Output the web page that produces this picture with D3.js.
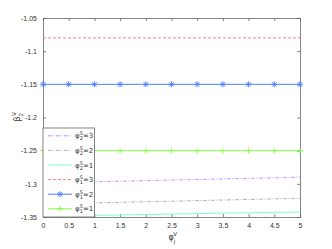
<!DOCTYPE html>
<html>
<head>
<meta charset="utf-8">
<script src="https://cdn.jsdelivr.net/npm/d3@7"></script>
<style>
  body { margin: 0; background: #fff; }
  svg { font-family: "DejaVu Sans", sans-serif; }
</style>
</head>
<body>
<svg id="chart" width="332" height="249"></svg>
<script>
// x positions (phi_j^V)
const xVals = [0, 0.5, 1, 1.5, 2, 2.5, 3, 3.5, 4, 4.5, 5];
const xTicks = [0, 0.5, 1, 1.5, 2, 2.5, 3, 3.5, 4, 4.5, 5];
const yTicks = [-1.35, -1.3, -1.25, -1.2, -1.15, -1.1, -1.05];

// series values
const phi1s1 = [-1.25, -1.25, -1.25, -1.25, -1.25, -1.25, -1.25, -1.25, -1.25, -1.25, -1.25];
const phi1s2 = [-1.15, -1.15, -1.15, -1.15, -1.15, -1.15, -1.15, -1.15, -1.15, -1.15, -1.15];
const phi1s3 = [-1.08, -1.08, -1.08, -1.08, -1.08, -1.08, -1.08, -1.08, -1.08, -1.08, -1.08];
const phi2s3 = [-1.299, -1.298, -1.297, -1.296, -1.2952, -1.2943, -1.2935, -1.2926, -1.2918, -1.291, -1.2898];
const phi2s2 = [-1.3305, -1.3296, -1.3287, -1.3278, -1.327, -1.3262, -1.3253, -1.3244, -1.3235, -1.3227, -1.322];
const phi2s1 = [-1.349, -1.3483, -1.3476, -1.347, -1.3463, -1.3456, -1.3449, -1.3442, -1.3436, -1.343, -1.3425];

const series = [
  { name: '2', sup: 'S', val: '3', data: phi2s3, color: '#b77cff', dash: '4,1.5,1,1.5', width: 0.8, marker: null },
  { name: '2', sup: 'S', val: '2', data: phi2s2, color: '#a0a0a0', dash: '4,1.5,1,1.5', width: 0.8, marker: null },
  { name: '2', sup: 'S', val: '1', data: phi2s1, color: '#7fffd4', dash: null, width: 1, marker: null },
  { name: '1', sup: 'S', val: '3', data: phi1s3, color: '#ff8080', dash: '3,2', width: 1, marker: null },
  { name: '1', sup: 'S', val: '2', data: phi1s2, color: '#4d7fff', dash: null, width: 1, marker: 'star' },
  { name: '1', sup: 'S', val: '1', data: phi1s1, color: '#80ff40', dash: null, width: 1, marker: 'plus' }
];

const margin = { left: 43, right: 32, top: 18, bottom: 32 };
const width = 332, height = 249;
const svg = d3.select('#chart');

const xScale = d3.scaleLinear().domain([0, 5]).range([margin.left, width - margin.right]);
const yScale = d3.scaleLinear().domain([-1.35, -1.05]).range([height - margin.bottom, margin.top]);

const axisColor = '#666';
const fmt = d => String(d);

// axes (ticks inward, box)
const gx = svg.append('g')
  .attr('transform', `translate(0,${height - margin.bottom})`)
  .call(d3.axisBottom(xScale).tickValues(xTicks).tickSize(-3).tickPadding(6).tickFormat(fmt));
const gxt = svg.append('g')
  .attr('transform', `translate(0,${margin.top})`)
  .call(d3.axisTop(xScale).tickValues(xTicks).tickSize(-3).tickFormat(''));
const gy = svg.append('g')
  .attr('transform', `translate(${margin.left},0)`)
  .call(d3.axisLeft(yScale).tickValues(yTicks).tickSize(-3).tickPadding(6).tickFormat(fmt));
const gyr = svg.append('g')
  .attr('transform', `translate(${width - margin.right},0)`)
  .call(d3.axisRight(yScale).tickValues(yTicks).tickSize(-3).tickFormat(''));

[gx, gxt, gy, gyr].forEach(g => {
  g.selectAll('path').attr('stroke', axisColor).attr('stroke-width', 0.8);
  g.selectAll('line').attr('stroke', axisColor).attr('stroke-width', 0.8);
  g.selectAll('text').attr('fill', '#333').attr('font-size', '7px');
});

const line = d3.line()
  .x((d, i) => xScale(xVals[i]))
  .y(d => yScale(d));

function drawMarker(g, type, x, y, color) {
  const r = 3;
  if (type === 'plus' || type === 'star') {
    g.append('line').attr('x1', x - r).attr('x2', x + r).attr('y1', y).attr('y2', y)
      .attr('stroke', color).attr('stroke-width', 0.9);
    g.append('line').attr('x1', x).attr('x2', x).attr('y1', y - r).attr('y2', y + r)
      .attr('stroke', color).attr('stroke-width', 0.9);
  }
  if (type === 'star') {
    const d = r * 0.75;
    g.append('line').attr('x1', x - d).attr('x2', x + d).attr('y1', y - d).attr('y2', y + d)
      .attr('stroke', color).attr('stroke-width', 0.9);
    g.append('line').attr('x1', x - d).attr('x2', x + d).attr('y1', y + d).attr('y2', y - d)
      .attr('stroke', color).attr('stroke-width', 0.9);
  }
}

const plot = svg.append('g');
series.forEach(s => {
  plot.append('path')
    .attr('d', line(s.data))
    .attr('fill', 'none')
    .attr('stroke', s.color)
    .attr('stroke-width', s.width)
    .attr('stroke-dasharray', s.dash);
  if (s.marker) {
    const mg = plot.append('g');
    s.data.forEach((v, i) => drawMarker(mg, s.marker, xScale(xVals[i]), yScale(v), s.color));
  }
});

// legend
const lg = svg.append('g');
const lx = margin.left, ly = 128, lw = xScale(1) - margin.left, lh = height - margin.bottom - 128;
lg.append('rect').attr('x', lx).attr('y', ly).attr('width', lw).attr('height', lh)
  .attr('fill', '#fff').attr('stroke', axisColor).attr('stroke-width', 0.8);
series.forEach((s, i) => {
  const yy = ly + 7.8 + i * 14.6;
  lg.append('line').attr('x1', lx + 5).attr('x2', lx + 29).attr('y1', yy).attr('y2', yy)
    .attr('stroke', s.color).attr('stroke-width', s.width).attr('stroke-dasharray', s.dash);
  if (s.marker) drawMarker(lg, s.marker, lx + 17, yy, s.color);
  const t = lg.append('text').attr('x', lx + 32).attr('y', yy + 2.5)
    .attr('font-size', '7px').attr('fill', '#333');
  t.append('tspan').text('φ');
  t.append('tspan').attr('font-size', '5px').attr('dy', 2).text(s.name);
  t.append('tspan').attr('font-size', '5px').attr('dx', -3).attr('dy', -5).text(s.sup);
  t.append('tspan').attr('dy', 3).text('=' + s.val);
});

// axis labels
const xl = svg.append('text')
  .attr('x', xScale(2.5) - 3).attr('y', height - 9)
  .attr('font-size', '8px').attr('fill', '#333');
xl.append('tspan').text('φ');
xl.append('tspan').attr('font-size', '5.5px').attr('dy', 2.5).text('j');
xl.append('tspan').attr('font-size', '5.5px').attr('dx', -2).attr('dy', -7).text('V');

const yl = svg.append('text')
  .attr('transform', `translate(20,${yScale(-1.2) + 4}) rotate(-90)`)
  .attr('font-size', '8px').attr('fill', '#333');
yl.append('tspan').text('β');
yl.append('tspan').attr('font-size', '5.5px').attr('dy', 2.5).text('2');
yl.append('tspan').attr('font-size', '5.5px').attr('dx', -3).attr('dy', -7).text('V');
</script>
</body>
</html>
